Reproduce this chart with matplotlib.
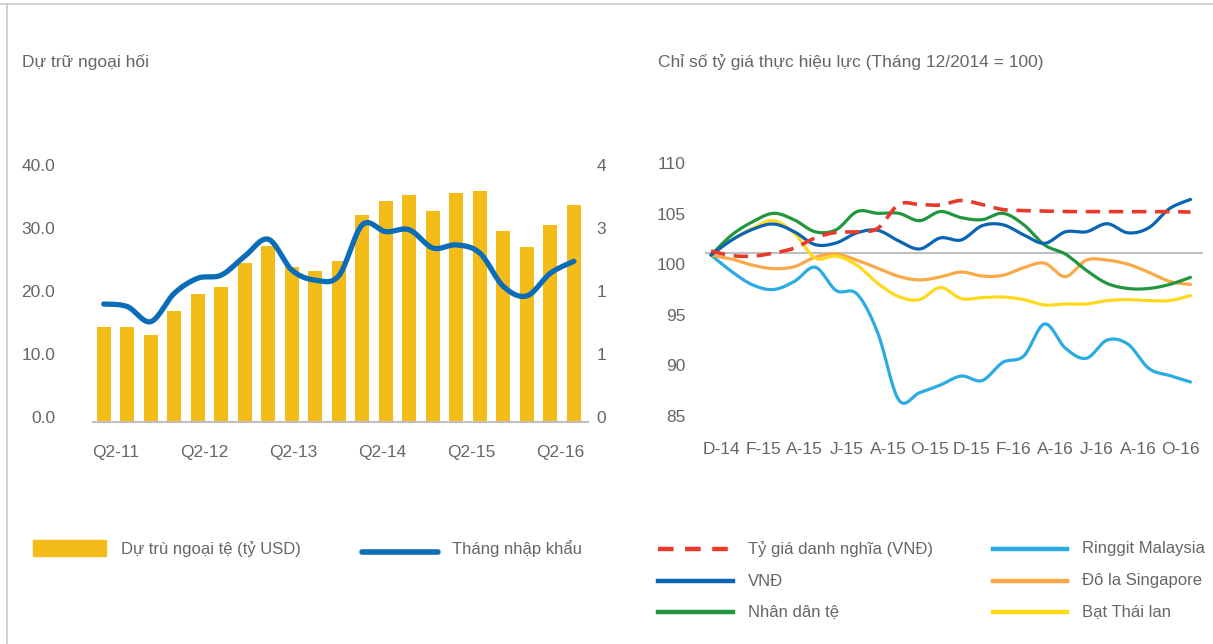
import numpy as np
import matplotlib
matplotlib.use("Agg")
import matplotlib.pyplot as plt
from matplotlib.lines import Line2D
from matplotlib.patches import Rectangle
from matplotlib.transforms import ScaledTranslation

plt.rcParams['font.family'] = ['Liberation Sans', 'DejaVu Sans']

# ---- left chart: reserves (bn USD) and months of imports, Q2-11 .. Q2-16
quarters = ['Q2-11', 'Q2-12', 'Q2-13', 'Q2-14', 'Q2-15', 'Q2-16']
reserves = [15.1, 15.1, 13.8, 17.6, 20.3, 21.4, 25.2, 27.9, 24.6, 24.0, 25.5,
            32.9, 35.1, 36.0, 33.5, 36.4, 36.7, 30.3, 27.8, 31.3, 34.5]
import_months = [1.87, 1.83, 1.59, 2.04, 2.28, 2.33, 2.63, 2.90, 2.41, 2.25, 2.32,
                 3.13, 3.02, 3.05, 2.76, 2.81, 2.68, 2.15, 2.00, 2.36, 2.55]
right_tick_text = ['0', '1', '1', '3', '4']

# ---- right chart: effective exchange rate index, monthly Dec-14 .. Nov-16
month_labels = ['D-14', 'F-15', 'A-15', 'J-15', 'A-15', 'O-15', 'D-15', 'F-16',
                'A-16', 'J-16', 'A-16', 'O-16']
nominal_vnd = [101.3, 100.85, 100.8, 101.1, 101.6, 102.6, 103.15, 103.2, 103.55, 105.9, 105.9, 105.85,
               106.3, 105.9, 105.4, 105.3, 105.25, 105.2, 105.2, 105.2, 105.2, 105.2, 105.2, 105.15]
vnd = [100.9, 102.4, 103.45, 103.97, 103.2, 101.93, 102.1, 103.1, 103.35, 102.3, 101.5, 102.6,
       102.4, 103.8, 103.9, 102.9, 102.06, 103.2, 103.2, 104.0, 103.1, 103.6, 105.5, 106.4]
cny = [100.9, 102.9, 104.2, 105.03, 104.37, 103.2, 103.4, 105.2, 105.03, 105.03, 104.3, 105.2,
       104.6, 104.4, 105.03, 103.9, 101.9, 101.0, 99.4, 98.1, 97.6, 97.6, 98.0, 98.7]
myr = [100.9, 99.26, 97.95, 97.5, 98.3, 99.7, 97.4, 97.06, 93.2, 86.6, 87.3, 88.06,
       88.95, 88.5, 90.3, 90.93, 94.1, 91.7, 90.7, 92.5, 92.1, 89.7, 89.0, 88.36]
sgd = [100.9, 100.5, 99.9, 99.56, 99.76, 100.7, 101.0, 100.4, 99.6, 98.8, 98.44, 98.74,
       99.23, 98.83, 98.9, 99.66, 100.1, 98.77, 100.4, 100.4, 100.0, 99.2, 98.3, 98.0]
thb = [100.9, 102.4, 103.55, 104.3, 103.05, 100.6, 100.8, 99.9, 98.1, 96.8, 96.5, 97.7,
       96.6, 96.7, 96.76, 96.5, 95.97, 96.07, 96.07, 96.4, 96.5, 96.4, 96.4, 96.9]
base_level = 101.07

grey = '#666666'
W, H = 1213, 644
FS = 12
TS = 12.5


def smooth(x, y, n=16):
    # Catmull-Rom curve through the points (Excel style smoothed line)
    x = np.asarray(x, float)
    y = np.asarray(y, float)
    t = np.linspace(0, 1, n, endpoint=False)
    xs, ys = [], []
    for i in range(len(x) - 1):
        a = max(i - 1, 0)
        d = min(i + 2, len(x) - 1)
        for arr, out in ((x, xs), (y, ys)):
            p0, p1, p2, p3 = arr[a], arr[i], arr[i + 1], arr[d]
            out.append(0.5 * (2 * p1 + (p2 - p0) * t + (2 * p0 - 5 * p1 + 4 * p2 - p3) * t ** 2
                              + (3 * p1 - p0 - 3 * p2 + p3) * t ** 3))
    xs.append([x[-1]])
    ys.append([y[-1]])
    return np.concatenate(xs), np.concatenate(ys)


def rect(x0, x1, ytop, ybot):
    return [x0 / W, 1 - ybot / H, (x1 - x0) / W, (ybot - ytop) / H]


fig = plt.figure(figsize=(W / 100, H / 100), dpi=100)

# panel border lines
fig.add_artist(Line2D([0, 1], [1 - 4 / H, 1 - 4 / H], color='#c8c8c8', lw=1.2))
fig.add_artist(Line2D([7 / W, 7 / W], [0, 1 - 4 / H], color='#c8c8c8', lw=1.2))

fig.text(22 / W, 1 - 62 / H, 'Dự trữ ngoại hối', fontsize=TS, color=grey, va='center')
fig.text(658 / W, 1 - 62 / H, 'Chỉ số tỷ giá thực hiệu lực (Tháng 12/2014 = 100)',
         fontsize=TS, color=grey, va='center')

# ---------------- left chart
ax = fig.add_axes(rect(92.7, 588, 170, 421.7))
xb = np.arange(len(reserves))
ax.bar(xb, reserves, width=0.6, color='#F4BC19', zorder=2)
ax.set_xlim(-0.47, 20.6)
ax.set_ylim(0, 40)
ax.set_yticks([0, 10, 20, 30, 40])
ax.set_yticklabels(['0.0', '10.0', '20.0', '30.0', '40.0'])
ax.set_xticks(np.linspace(0.5, 19.4, len(quarters)))
ax.set_xticklabels(quarters)
for s in ['top', 'right', 'left']:
    ax.spines[s].set_visible(False)
ax.spines['bottom'].set_color('#bfbfbf')
ax.spines['bottom'].set_linewidth(1.5)
ax.tick_params(length=0, labelsize=TS, colors=grey)
ax.tick_params(axis='y', pad=27)
ax.tick_params(axis='x', pad=17)
up = ScaledTranslation(0, 5 / 100, fig.dpi_scale_trans)
for lab in ax.get_yticklabels():
    lab.set_transform(lab.get_transform() + up)

ax2 = ax.twinx()
sx, sy = smooth(xb, import_months)
ax2.plot(sx, sy, color='#0B6DB7', lw=3.8, solid_capstyle='round', zorder=3)
ax2.set_ylim(0, 4)
ax2.set_yticks([0, 1, 2, 3, 4])
ax2.set_yticklabels(right_tick_text)
for s in ['top', 'right', 'left', 'bottom']:
    ax2.spines[s].set_visible(False)
ax2.tick_params(length=0, labelsize=TS, colors=grey, pad=6)
for lab in ax2.get_yticklabels():
    lab.set_transform(lab.get_transform() + up)

# left legend
fig.add_artist(Rectangle((33 / W, 1 - 556 / H), 73 / W, 16 / H, color='#F4BC19',
                         transform=fig.transFigure))
fig.text(121 / W, 1 - 549 / H, 'Dự trù ngoại tệ (tỷ USD)', fontsize=FS, color=grey, va='center')
fig.add_artist(Line2D([362 / W, 438 / W], [1 - 552 / H, 1 - 552 / H], color='#0B6DB7',
                      lw=4, solid_capstyle='round'))
fig.text(452 / W, 1 - 549 / H, 'Tháng nhập khẩu', fontsize=FS, color=grey, va='center')

# ---------------- right chart
bx = fig.add_axes(rect(704.8, 1203, 163, 416))
xm = np.arange(len(vnd))
bx.axhline(base_level, color='#c0c0c0', lw=1.5, zorder=1)
series = [
    (myr, '#2BABE2'),
    (sgd, '#F9A947'),
    (thb, '#FFD91C'),
    (cny, '#21963F'),
    (vnd, '#0A64B4'),
]
for vals, col in series:
    sx, sy = smooth(xm, vals)
    bx.plot(sx, sy, color=col, lw=2.3, solid_capstyle='round', zorder=3)
sx, sy = smooth(xm, nominal_vnd)
bx.plot(sx, sy, color='#E8392B', lw=2.6, dashes=(4, 2.4), zorder=4)
bx.set_xlim(-0.3, 23.6)
bx.set_ylim(85, 110)
bx.set_yticks([85, 90, 95, 100, 105, 110])
bx.set_xticks(np.arange(len(month_labels)) * 2 + 0.5)
bx.set_xticklabels(month_labels)
for s in ['top', 'right', 'left', 'bottom']:
    bx.spines[s].set_visible(False)
bx.tick_params(length=0, labelsize=TS, colors=grey)
bx.tick_params(axis='y', pad=14)
bx.tick_params(axis='x', pad=19)

# right legend
rows = [549, 581, 612]
left_items = [('Tỷ giá danh nghĩa (VNĐ)', '#E8392B', True), ('VNĐ', '#0A64B4', False),
              ('Nhân dân tệ', '#21963F', False)]
right_items = [('Ringgit Malaysia', '#2BABE2'), ('Đô la Singapore', '#F9A947'),
               ('Bạt Thái lan', '#FFD91C')]
for (name, col, dashed), yy in zip(left_items, rows):
    ln = Line2D([658 / W, 733 / W], [1 - yy / H, 1 - yy / H], color=col, lw=3.2)
    if dashed:
        ln.set_dashes((3.5, 2.6))
    fig.add_artist(ln)
    fig.text(748 / W, 1 - yy / H, name, fontsize=FS, color=grey, va='center')
for (name, col), yy in zip(right_items, rows):
    fig.add_artist(Line2D([993 / W, 1067 / W], [1 - yy / H, 1 - yy / H], color=col, lw=3.2))
    fig.text(1082 / W, 1 - yy / H, name, fontsize=FS, color=grey, va='center')

fig.savefig('out.png', dpi=100)
